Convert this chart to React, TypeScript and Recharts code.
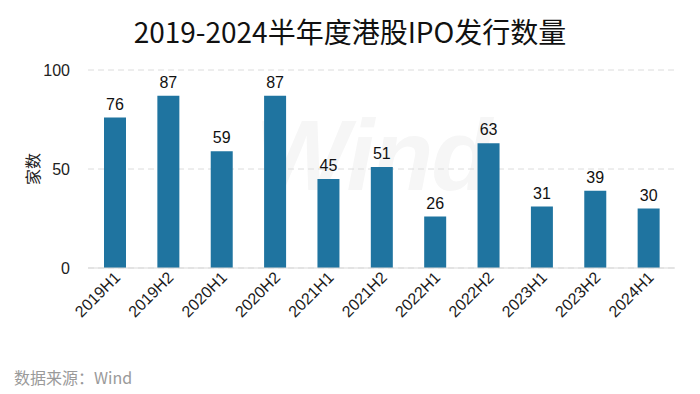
import React from 'react'
import { BarChart, Bar, XAxis, YAxis, CartesianGrid, LabelList } from 'recharts'

const periods = ['2019H1', '2019H2', '2020H1', '2020H2', '2021H1', '2021H2', '2022H1', '2022H2', '2023H1', '2023H2', '2024H1']
const ipoCounts = [76, 87, 59, 87, 45, 51, 26, 63, 31, 39, 30]
const yTicks = [0, 50, 100]

const data = periods.map((p, i) => ({ period: p, count: ipoCounts[i] }))

const font = '"Liberation Sans", Arial, sans-serif'
const cjk = '"Noto Sans CJK SC", sans-serif'

function XTick(props: any) {
  const { x, y, payload } = props
  return (
    <g transform={`translate(${x + 3},${y - 1})`}>
      <text
        textAnchor="end"
        transform="rotate(-45)"
        fontSize={16}
        fontFamily={font}
        fill="#1a1a1a"
        dy={5}
      >
        {payload.value}
      </text>
    </g>
  )
}

export default function App() {
  return (
    <div style={{ position: 'absolute', left: 0, top: 0, width: 700, height: 394, background: '#fff', overflow: 'hidden' }}>
      <div
        style={{
          position: 'absolute', left: 0, top: 11, width: 700, textAlign: 'center',
          fontFamily: cjk, fontSize: 28, color: '#111', lineHeight: '40px',
        }}
      >
        2019-2024半年度港股IPO发行数量
      </div>
      <div
        style={{
          position: 'absolute', left: 255, top: 100, fontFamily: font, fontWeight: 'bold', fontStyle: 'italic',
          fontSize: 100, color: '#f6f6f6', letterSpacing: -2, lineHeight: '110px',
        }}
      >
        Wind
      </div>
      <div style={{ position: 'absolute', left: 0, top: 0 }}>
        <BarChart width={700} height={394} data={data} margin={{ top: 70, right: 25, left: 0, bottom: 0 }}>
          <CartesianGrid vertical={false} stroke="#dcdcdc" strokeDasharray="6 4" />
          <XAxis
            dataKey="period"
            tick={<XTick />}
            tickLine={false}
            axisLine={{ stroke: '#d9d9d9' }}
            interval={0}
            height={126}
          />
          <YAxis
            domain={[0, 100]}
            ticks={yTicks}
            width={88}
            tickSize={0}
            tickMargin={18}
            axisLine={false}
            tick={{ fontSize: 16, fontFamily: font, fill: '#222' }}
            label={{ value: '家数', angle: -90, position: 'insideLeft', offset: 33, style: { fontSize: 16, fontFamily: cjk, fill: '#222', textAnchor: 'middle' } }}
          />
          <Bar dataKey="count" fill="#1f74a0" barSize={22} isAnimationActive={false}>
            <LabelList dataKey="count" position="top" offset={8} style={{ fontSize: 16, fontFamily: font, fill: '#111' }} />
          </Bar>
        </BarChart>
      </div>
      <div
        style={{
          position: 'absolute', left: 14, top: 365, fontFamily: cjk, fontSize: 16, color: '#9a9a9a',
        }}
      >
        数据来源：Wind
      </div>
    </div>
  )
}
